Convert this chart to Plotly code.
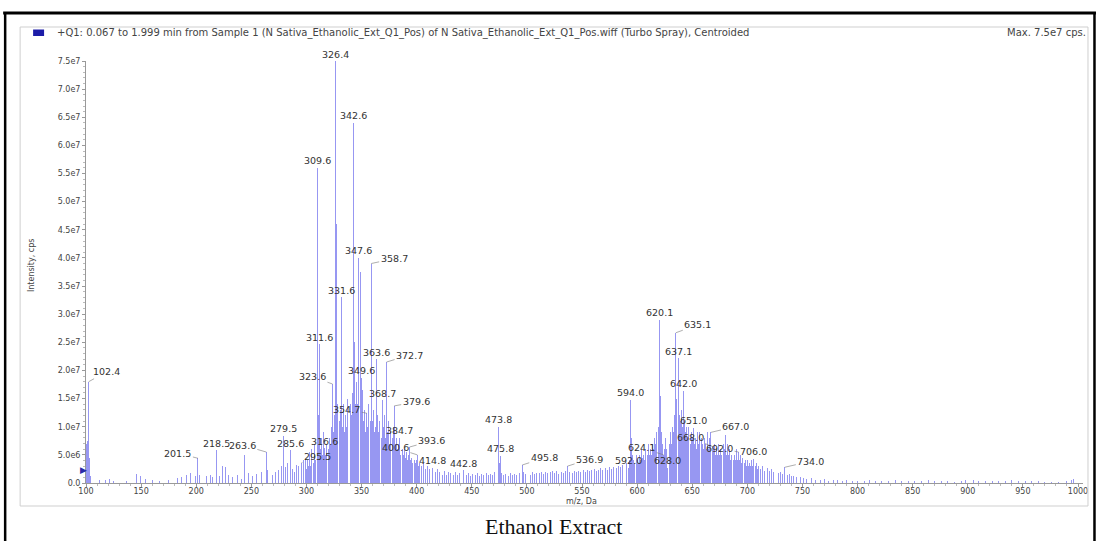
import plotly.graph_objects as go

# ---------------- data ----------------
# labelled peaks: m/z, intensity (cps)
label_mz = [102.4, 201.5, 218.5, 263.6, 279.5, 285.6, 295.5, 309.6, 311.6, 316.6,
            323.6, 326.4, 331.6, 342.6, 347.6, 349.6, 354.7, 358.7, 363.6, 368.7,
            372.7, 379.6, 384.7, 393.6, 400.6, 414.8, 442.8, 473.8, 475.8, 495.8,
            536.9, 592.0, 594.0, 620.1, 624.1, 628.0, 635.1, 637.1, 642.0, 651.0,
            667.0, 668.0, 692.0, 706.0, 734.0]
label_int = [1.80e7, 4.4e6, 5.8e6, 5.5e6, 8.4e6, 5.8e6, 3.6e6, 5.60e7, 2.47e7, 6.2e6,
             1.76e7, 7.50e7, 3.30e7, 6.40e7, 4.00e7, 1.87e7, 1.24e7, 3.90e7, 2.20e7, 1.47e7,
             2.15e7, 1.37e7, 8.0e6, 6.4e6, 5.0e6, 2.7e6, 2.3e6, 1.00e7, 4.8e6, 3.2e6,
             3.0e6, 2.7e6, 1.48e7, 2.90e7, 5.0e6, 2.7e6, 2.67e7, 2.22e7, 1.64e7, 9.8e6,
             9.0e6, 6.5e6, 5.5e6, 4.3e6, 2.8e6]

# unlabelled (minor) peaks: m/z, intensity in millions of cps
minor_mz = [100.5, 101.4, 103.4, 104.4, 112, 118, 121, 125, 137, 146, 149, 154, 160, 167, 175,
            183, 187, 191, 195, 199, 203, 209, 213, 215, 221, 224, 227, 229, 233, 237, 241,
            244, 247, 251, 255, 259, 265, 269, 272, 275, 277, 281, 283, 287, 289, 291, 293,
            297, 299,
            300, 301, 302, 303, 304, 305, 306, 307, 308, 310.6, 312.6, 313.6, 314.6, 315.6,
            317.6, 318.6, 319.6, 320.6, 321.6, 322.6, 324.6, 325.4, 327.4, 328.4, 329.6, 330.6,
            332.6, 333.6, 334.6, 335.6, 336.6, 337.6, 338.6, 339.6, 340.6, 341.6, 343.6, 344.6,
            345.6, 346.6, 348.6, 350.6, 351.6, 352.6, 353.6, 355.7, 356.7, 357.7, 359.7, 360.7,
            361.7, 362.7, 364.6, 365.7, 366.7, 367.7, 369.7, 370.7, 371.7, 373.7, 374.7, 375.7,
            376.7, 377.7, 378.7, 380.6, 381.6, 382.6, 383.6, 385.7, 386.7, 387.7, 388.7, 389.7,
            390.7, 391.7, 392.7, 394.6, 395.6, 396.6, 397.6, 398.6, 399.6, 401.6, 402.6, 404,
            406, 408, 410, 412, 417, 419,
            421, 423, 425, 427, 429, 431, 433, 435, 437, 439, 445, 447, 449, 451, 453, 455, 457,
            459, 461, 463, 465, 467, 469, 471, 474.8, 477, 479, 481, 483, 485, 487, 489, 491,
            493, 497, 499, 501, 503, 505, 507, 509, 511, 513, 515, 517, 519, 521, 523, 525, 527,
            529, 531, 533, 535, 539, 541, 543, 545, 547, 549, 551, 553, 555, 557, 559, 561, 563,
            565, 567, 569, 571, 573, 575, 577, 579, 581, 583, 585, 587, 589, 590,
            593, 595, 596, 597, 598, 599, 600, 601, 602, 603, 604, 605, 606, 607, 608, 609, 610,
            611, 612, 613, 614, 615, 616, 617, 618, 619, 621.1, 622, 623, 625, 626, 627, 629, 630,
            631, 632, 633, 634, 636.1, 638.1, 639, 640, 641, 643, 644, 645, 646, 647, 648, 649,
            650, 652, 653, 654, 655, 656, 657, 658, 659, 660, 661, 662, 663, 664, 665, 666, 669,
            670, 671, 672, 673, 674, 675, 676, 677, 678, 679, 680, 681, 682, 683, 684, 685, 686,
            687, 688, 689, 690, 691, 693, 694, 695, 696, 697, 698, 699, 700, 701, 702, 703, 704,
            705, 707, 708, 709, 710, 712, 714, 716, 718, 720, 722, 724, 726, 728, 730, 732, 736,
            738, 740, 742, 745, 748, 751, 754, 758,
            762, 766, 770, 774, 778, 782, 786, 790, 795, 800, 806, 811, 816, 822, 828, 834, 840,
            846, 852, 858, 864, 870, 876, 882, 888, 894, 898, 902, 905, 910, 916, 922, 928, 934,
            940, 946, 952, 958, 964, 970, 976, 982, 990, 994, 996]
minor_int_M = [7.0, 7.5, 4.5, 1.2, 0.6, 0.5, 0.8, 0.4, 0.4, 1.6, 1.2, 0.8, 0.5, 0.3, 0.6,
               0.9, 1.0, 1.4, 1.8, 1.2, 1.5, 1.2, 1.5, 1.0, 1.2, 3.0, 2.8, 1.5, 1.0, 1.4, 0.8,
               5.0, 1.8, 1.2, 1.6, 2.0, 2.4, 1.5, 2.0, 2.4, 3.0, 2.8, 3.5, 2.5, 2.0, 3.2, 3.0,
               4.0, 4.2,
               2.5, 4.0, 3.0, 5.5, 3.0, 6.0, 3.5, 7.0, 4.0, 12, 6, 8, 5, 9,
               5, 7, 6, 8, 7, 10, 9, 12, 46, 14, 11, 13,
               10, 14, 9, 12, 10, 15, 11, 14, 12, 16, 25, 14,
               18, 14, 37.5, 16.5, 11, 13, 9, 10, 14, 11, 11, 13,
               9, 10, 12, 9, 11, 8, 10, 12, 8, 9, 11, 7,
               9, 8, 10, 7, 8, 6, 7, 5, 6, 5, 6, 4.5,
               5.5, 4, 5, 4, 4.5, 3.5, 4, 3.5, 4, 3, 3.5, 3,
               3.5, 2.5, 3, 2.5, 2, 2.5,
               2.0, 1.5, 2.2, 1.5, 2.0, 1.8, 1.5, 2.0, 1.4, 1.8, 1.5, 1.8, 1.3, 1.6, 1.4, 1.8, 1.3,
               1.6, 1.5, 1.8, 1.4, 1.6, 1.5, 2.0, 3.5, 1.8, 1.4, 1.6, 1.3, 1.7, 1.4, 1.6, 1.5,
               1.8, 2.0, 1.6, 1.8, 1.5, 2.0, 1.6, 1.8, 1.7, 2.0, 1.6, 1.9, 1.7, 2.0, 2.2, 1.8, 2.1,
               1.6, 2.0, 1.8, 2.2, 2.0, 1.8, 2.2, 1.9, 2.2, 2.0, 2.3, 2.0, 2.4, 2.1, 2.3, 2.5, 2.2,
               2.4, 2.6, 2.3, 2.6, 2.4, 2.8, 2.5, 2.9, 2.6, 3.0, 2.8, 3.2, 3.0, 3.5,
               4, 8, 5, 4, 3.5, 5, 4, 3.5, 5, 4, 6, 4.5, 5, 4, 6, 5, 7,
               5, 6, 5, 7, 6, 8, 7, 9, 10, 15.5, 9, 7, 6, 8, 6, 7, 9,
               7, 10, 9, 12, 15, 12, 11, 13, 10, 11, 9, 10, 8, 10, 7, 9,
               8, 7, 8, 6, 9, 7, 9, 8, 7, 6, 8, 7, 6, 9, 6, 8, 6,
               7, 5, 6, 5, 7, 5, 6, 5, 7, 6, 8.5, 5, 7, 5, 6, 4, 5,
               4, 5, 4, 6, 4, 4, 5, 3.5, 4.5, 3.5, 4, 3, 4, 3, 3.5, 3, 4,
               3, 3, 3.5, 2.5, 3, 2.5, 3, 2.2, 2.6, 2.2, 2.5, 2, 2.2, 1.8, 2, 1.6, 1.5,
               1.6, 1.2, 1.3, 1.0, 1.1, 0.9, 0.8, 0.9,
               0.6, 0.5, 0.7, 0.4, 0.6, 0.5, 0.4, 0.6, 0.3, 0.4, 0.3, 0.5, 0.3, 0.4, 0.3, 0.5, 0.4,
               0.3, 0.4, 0.3, 0.5, 0.3, 0.4, 0.3, 0.2, 0.4, 0.6, 0.8, 0.5, 0.4, 0.3, 0.4, 0.3, 0.4,
               0.5, 0.3, 0.4, 0.3, 0.3, 0.2, 0.2, 0.2, 0.3, 0.5, 0.8]

y_tickvals = [0, 5e6, 1e7, 1.5e7, 2e7, 2.5e7, 3e7, 3.5e7, 4e7, 4.5e7, 5e7, 5.5e7, 6e7, 6.5e7, 7e7, 7.5e7]
y_ticktext = ["0.0", "5.0e6", "1.0e7", "1.5e7", "2.0e7", "2.5e7", "3.0e7", "3.5e7", "4.0e7",
              "4.5e7", "5.0e7", "5.5e7", "6.0e7", "6.5e7", "7.0e7", "7.5e7"]
x_tickvals = list(range(100, 1001, 50))

header_text = ("+Q1: 0.067 to 1.999 min from Sample 1 (N Sativa_Ethanolic_Ext_Q1_Pos) of "
               "N Sativa_Ethanolic_Ext_Q1_Pos.wiff (Turbo Spray), Centroided")
max_text = "Max. 7.5e7 cps."
x_title = "m/z, Da"
y_title = "Intensity, cps"
caption = "Ethanol Extract"

# leader-line offsets (pixels) for labels that sit beside their peak
leaders = {102.4: (18, -8), 201.5: (-20, -3), 263.6: (-24, -5), 295.5: (16, -4),
           323.6: (-20, -5), 354.7: (-20, -2), 358.7: (23, -3), 372.7: (23, -5),
           379.6: (22, -2), 393.6: (22, -4), 400.6: (-22, -5), 495.8: (22, -5),
           536.9: (22, -5), 624.1: (-22, -5), 635.1: (22, -6), 667.0: (25, -4),
           668.0: (-22, -7), 692.0: (-19, -2), 734.0: (26, -4)}

# ---------------- figure ----------------
W, H = 1100, 541
L, R, T, B = 86, 15, 61, 58
PW, PH = W - L - R, H - T - B
SANS = "DejaVu Sans, Verdana, sans-serif"


def px(xp):
    return (xp - L) / PW


def py(yp):
    return (H - B - yp) / PH


all_mz = label_mz + minor_mz
all_int = label_int + [v * 1e6 for v in minor_int_M]

fig = go.Figure()
fig.add_trace(go.Bar(x=all_mz, y=all_int, width=0.9,
                     marker=dict(color="rgba(92,92,235,0.64)", line=dict(width=0)),
                     showlegend=False, hoverinfo="x+y"))

tfont = dict(family=SANS, size=9.5, color="#333")
ann = []
for m, v in zip(label_mz, label_int):
    txt = f"{m:.1f}"
    if m in leaders:
        dx, dy = leaders[m]
        ann.append(dict(x=m, y=v, xref="x", yref="y", text=txt, showarrow=True,
                        ax=dx, ay=dy - 2, arrowhead=0, arrowwidth=0.6, arrowcolor="#777",
                        standoff=0, startstandoff=0, font=tfont))
    else:
        ann.append(dict(x=m, y=v, xref="x", yref="y", text=txt, showarrow=False,
                        yshift=7, font=tfont))

hfont = dict(family=SANS, size=10, color="#444")
ann.append(dict(x=px(55), y=py(33), xref="paper", yref="paper", text=header_text,
                showarrow=False, xanchor="left", yanchor="middle", font=hfont))
ann.append(dict(x=px(1090), y=py(33), xref="paper", yref="paper", text=max_text,
                showarrow=False, xanchor="right", yanchor="middle", font=hfont))
ann.append(dict(x=px(582), y=py(501), xref="paper", yref="paper", text=x_title,
                showarrow=False, xanchor="center", yanchor="middle",
                font=dict(family=SANS, size=8, color="#444")))
ann.append(dict(x=px(31), y=py(265), xref="paper", yref="paper", text=y_title,
                showarrow=False, xanchor="center", yanchor="middle", textangle=-90,
                font=dict(family=SANS, size=8, color="#444")))
ann.append(dict(x=px(554), y=py(526), xref="paper", yref="paper", text=caption,
                showarrow=False, xanchor="center", yanchor="middle",
                font=dict(family="Liberation Serif, Times New Roman, serif", size=22, color="#111")))
ann.append(dict(x=px(83), y=py(470), xref="paper", yref="paper", text="\u25B6",
                showarrow=False, xanchor="center", yanchor="middle",
                font=dict(family="DejaVu Sans", size=9, color="#2a2aa8")))

shapes = [
    # outer black frame
    dict(type="line", xref="paper", yref="paper", x0=px(3), x1=px(1098), y0=py(13), y1=py(13),
         line=dict(color="black", width=3)),
    dict(type="line", xref="paper", yref="paper", x0=px(5), x1=px(5), y0=py(12), y1=py(545),
         line=dict(color="black", width=2.5)),
    dict(type="line", xref="paper", yref="paper", x0=px(1096.5), x1=px(1096.5), y0=py(12), y1=py(545),
         line=dict(color="black", width=2.5)),
    # inner gray box
    dict(type="rect", xref="paper", yref="paper", x0=px(20), x1=px(1090), y0=py(506), y1=py(27),
         line=dict(color="#cfcfcf", width=1), fillcolor="rgba(0,0,0,0)"),
    # legend swatch
    dict(type="rect", xref="paper", yref="paper", x0=px(33), x1=px(44), y0=py(36), y1=py(29.5),
         line=dict(width=0), fillcolor="#1c1ca8"),
]

fig.update_layout(
    width=W, height=H, autosize=False,
    margin=dict(l=L, r=R, t=T, b=B),
    paper_bgcolor="white", plot_bgcolor="white",
    bargap=0, barmode="overlay",
    annotations=ann, shapes=shapes,
    font=dict(family=SANS, size=8, color="#444"),
    xaxis=dict(range=[100, 100 + PW / (994 / 900)], tickvals=x_tickvals,
               ticktext=[str(v) for v in x_tickvals],
               showgrid=False, zeroline=False, showline=True, linecolor="#999", linewidth=1,
               ticks="outside", ticklen=3, tickcolor="#999", ticklabelstandoff=-3,
               tickfont=dict(family=SANS, size=8, color="#444"),
               minor=dict(ticks="outside", ticklen=2, dtick=10, tickcolor="#bbb")),
    yaxis=dict(range=[0, 7.5e7], tickvals=y_tickvals, ticktext=y_ticktext,
               showgrid=False, zeroline=False, showline=True, linecolor="#999", linewidth=1,
               ticks="outside", ticklen=3, tickcolor="#999",
               tickfont=dict(family=SANS, size=8, color="#444"),
               minor=dict(ticks="outside", ticklen=2, dtick=1e6, tickcolor="#bbb")),
)

fig.write_html("out.html", config={"displayModeBar": False},
               post_script="document.body.style.margin='0';document.body.style.overflow='hidden';")
